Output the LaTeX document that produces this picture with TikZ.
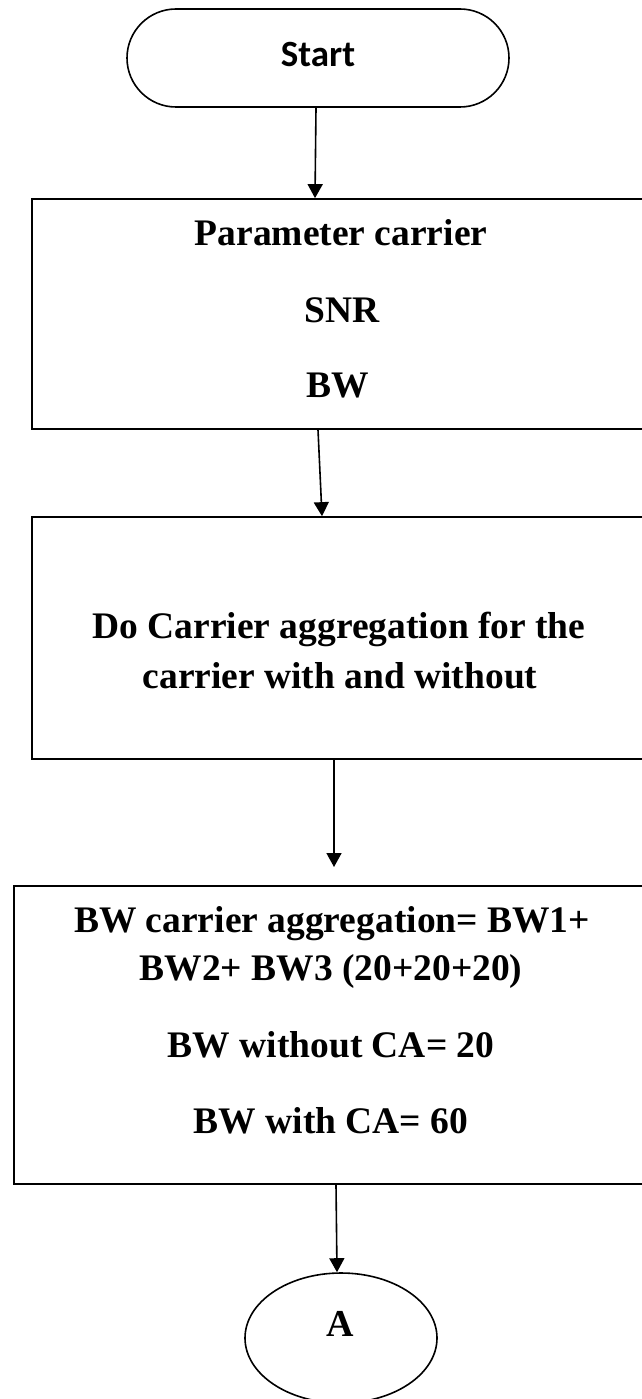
\documentclass[tikz,border=0pt]{standalone}
\usepackage{fontspec}
\setmainfont{Liberation Serif}
\newfontfamily\startfont{Carlito}
\usetikzlibrary{shapes.geometric,arrows.meta}

\tikzset{
    term/.style={draw, line width=1.6pt, rounded corners=49pt, minimum width=382pt, minimum height=98pt, inner sep=0pt, text height=24pt, text depth=6pt, font=\startfont\bfseries\fontsize{37}{44}\selectfont},
    flowbox/.style={draw, line width=1.7pt, rectangle, inner sep=0pt},
    endpt/.style={draw, ellipse, line width=1.6pt, minimum width=192pt, minimum height=130pt, inner sep=0pt},
    boxtext/.style={anchor=base, inner sep=0pt, font=\bfseries\fontsize{37.5}{45}\selectfont},
    flow/.style={-{Triangle[width=15pt,length=14pt]}, line width=1.6pt}
}

\begin{document}
\begin{tikzpicture}[x=1pt,y=-1pt]
    % Page size
    \useasboundingbox (0,0) rectangle (641,1399);

    % Shapes
    \node[term] (start) at (318,58) {Start};
    \node[flowbox, minimum width=618pt, minimum height=230pt] (param) at (341,314) {};
    \node[flowbox, minimum width=618pt, minimum height=242pt] (doca) at (341,638) {};
    \node[flowbox, minimum width=634pt, minimum height=298pt] (bwca) at (331,1035) {};
    \node[endpt] (endA) at (341,1338) {};

    % Texts
    \node[boxtext] (p1) at (341,245) {Parameter carrier};
    \node[boxtext] (p2) at (342,322) {SNR};
    \node[boxtext] (p3) at (338,397) {BW};
    \node[boxtext] (d1) at (339,638) {Do Carrier aggregation for the};
    \node[boxtext] (d2) at (340,688) {carrier with and without};
    \node[boxtext] (b1) at (332,932) {BW carrier aggregation= BW1+};
    \node[boxtext] (b2) at (331,980) {BW2+ BW3 (20+20+20)};
    \node[boxtext] (b3) at (331,1057) {BW without CA= 20};
    \node[boxtext] (b4) at (331,1133) {BW with CA= 60};
    \node[boxtext, font=\bfseries\fontsize{38}{45}\selectfont] (a1) at (340,1336) {A};

    % Arrows
    \coordinate (gap) at (334,867);
    \draw[flow] ([xshift=-2pt]start.south) -- ([xshift=-26pt]param.north);
    \draw[flow] ([xshift=-23pt]param.south) -- ([xshift=-19pt]doca.north);
    \draw[flow] ([xshift=-7pt]doca.south) -- (gap);
    \draw[flow] ([xshift=5pt]bwca.south) -- ([xshift=-4pt]endA.north);

\end{tikzpicture}
\end{document}
